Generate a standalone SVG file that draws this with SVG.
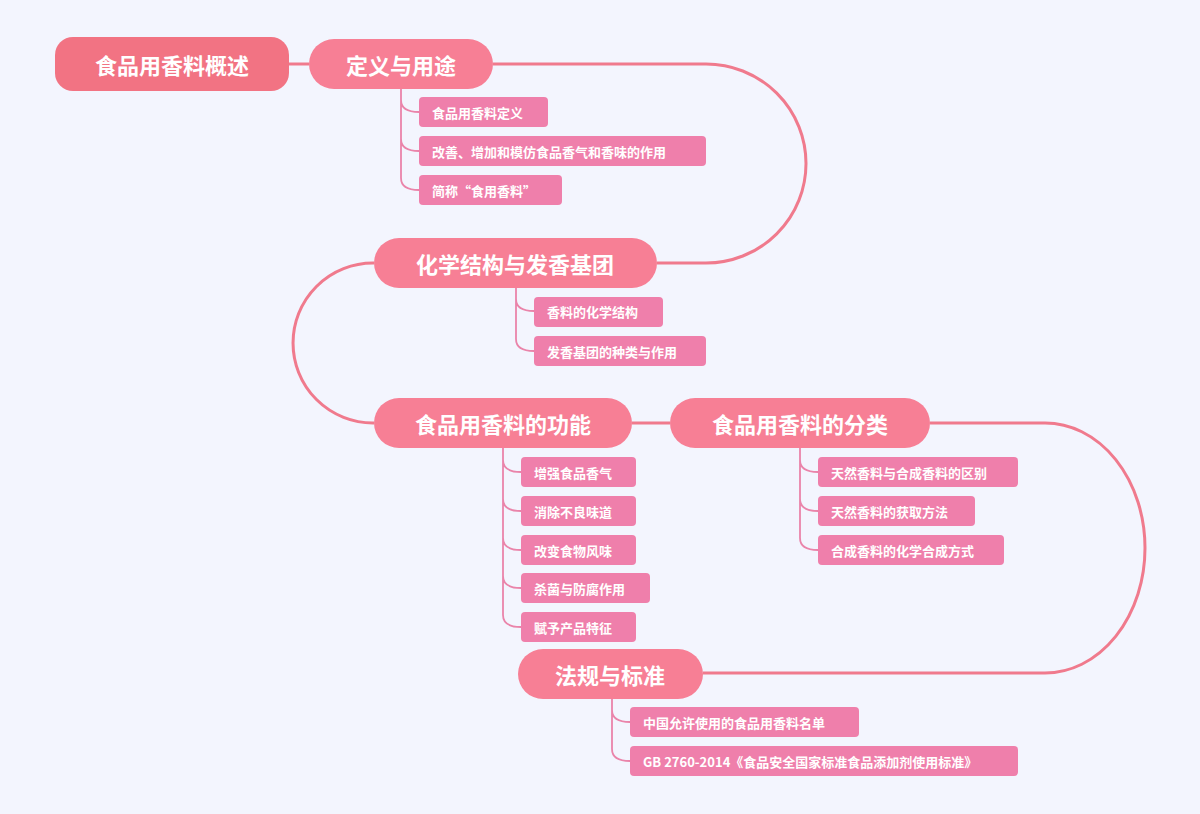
<svg xmlns="http://www.w3.org/2000/svg" width="1200" height="814" viewBox="0 0 1200 814">
<style>
.bg{fill:#f3f5fe}
.main{fill:#f77f95}
.root{fill:#f27383}
.leaf{fill:#ef7fab}
.t1{font-family:"Noto Sans CJK SC","Liberation Serif",serif;font-size:22px;fill:#fff;text-anchor:middle;dominant-baseline:central;font-weight:bold}
.t2{font-family:"Noto Sans CJK SC","Liberation Sans",sans-serif;font-size:13px;fill:#fff;font-weight:bold;dominant-baseline:central}
.big{fill:none;stroke:#f07a8d;stroke-width:3}
.br{fill:none;stroke:#ea84aa;stroke-width:1.8}
</style>
<rect class="bg" width="1200" height="814"/>
<g id="connectors">
<path class="big" d="M289 64 H309"/>
<path class="big" d="M493 64 H706 A100 99.5 0 0 1 706 263 H657"/>
<path class="big" d="M374 263 H373 A80 80 0 0 0 373 423 H374"/>
<path class="big" d="M632 423 H670"/>
<path class="big" d="M930 423 H1045 A100 125 0 0 1 1045 673 H703"/>
<path class="br" d="M401 89 V100 Q401 112 419 112 M401 100 V139 Q401 151 419 151 M401 139 V178 Q401 190 419 190"/>
<path class="br" d="M516 288 V299 Q516 311 534 311 M516 299 V339 Q516 351 534 351"/>
<path class="br" d="M503 448 V460 Q503 472 521 472 M503 460 V499 Q503 511 521 511 M503 499 V538 Q503 550 521 550 M503 538 V576 Q503 588 521 588 M503 576 V615 Q503 627 521 627"/>
<path class="br" d="M800 448 V460 Q800 472 818 472 M800 460 V499 Q800 511 818 511 M800 499 V538 Q800 550 818 550"/>
<path class="br" d="M612 699 V710 Q612 722 630 722 M612 710 V749 Q612 761 630 761"/>
</g>
<g id="root"><rect class="root" x="55" y="37" width="234" height="54" rx="18"/><text class="t1" x="172" y="64">食品用香料概述</text></g>
<g id="n1"><rect class="main" x="309" y="39" width="184" height="50" rx="25"/><text class="t1" x="401" y="64">定义与用途</text></g>
<g id="n1a"><rect class="leaf" x="419" y="97" width="129" height="30" rx="4"/><text class="t2" x="432" y="112">食品用香料定义</text></g>
<g id="n1b"><rect class="leaf" x="419" y="136" width="287" height="30" rx="4"/><text class="t2" x="432" y="151">改善、增加和模仿食品香气和香味的作用</text></g>
<g id="n1c"><rect class="leaf" x="419" y="175" width="143" height="30" rx="4"/><text class="t2" x="432" y="190">简称“食用香料”</text></g>
<g id="n2"><rect class="main" x="374" y="238" width="283" height="50" rx="25"/><text class="t1" x="515" y="263">化学结构与发香基团</text></g>
<g id="n2a"><rect class="leaf" x="534" y="297" width="129" height="30" rx="4"/><text class="t2" x="547" y="311">香料的化学结构</text></g>
<g id="n2b"><rect class="leaf" x="534" y="336" width="172" height="30" rx="4"/><text class="t2" x="547" y="351">发香基团的种类与作用</text></g>
<g id="n3"><rect class="main" x="374" y="398" width="258" height="50" rx="25"/><text class="t1" x="503" y="423">食品用香料的功能</text></g>
<g id="n3a"><rect class="leaf" x="521" y="457" width="115" height="30" rx="4"/><text class="t2" x="534" y="472">增强食品香气</text></g>
<g id="n3b"><rect class="leaf" x="521" y="496" width="115" height="30" rx="4"/><text class="t2" x="534" y="511">消除不良味道</text></g>
<g id="n3c"><rect class="leaf" x="521" y="535" width="115" height="30" rx="4"/><text class="t2" x="534" y="550">改变食物风味</text></g>
<g id="n3d"><rect class="leaf" x="521" y="573" width="129" height="30" rx="4"/><text class="t2" x="534" y="588">杀菌与防腐作用</text></g>
<g id="n3e"><rect class="leaf" x="521" y="612" width="115" height="30" rx="4"/><text class="t2" x="534" y="627">赋予产品特征</text></g>
<g id="n4"><rect class="main" x="670" y="398" width="260" height="50" rx="25"/><text class="t1" x="800" y="423">食品用香料的分类</text></g>
<g id="n4a"><rect class="leaf" x="818" y="457" width="200" height="30" rx="4"/><text class="t2" x="831" y="472">天然香料与合成香料的区别</text></g>
<g id="n4b"><rect class="leaf" x="818" y="496" width="157" height="30" rx="4"/><text class="t2" x="831" y="511">天然香料的获取方法</text></g>
<g id="n4c"><rect class="leaf" x="818" y="535" width="186" height="30" rx="4"/><text class="t2" x="831" y="550">合成香料的化学合成方式</text></g>
<g id="n5"><rect class="main" x="518" y="649" width="185" height="50" rx="25"/><text class="t1" x="610" y="674">法规与标准</text></g>
<g id="n5a"><rect class="leaf" x="630" y="707" width="229" height="30" rx="4"/><text class="t2" x="643" y="722">中国允许使用的食品用香料名单</text></g>
<g id="n5b"><rect class="leaf" x="630" y="746" width="388" height="30" rx="4"/><text class="t2" x="643" y="761">GB 2760-2014《食品安全国家标准食品添加剂使用标准》</text></g>
</svg>
